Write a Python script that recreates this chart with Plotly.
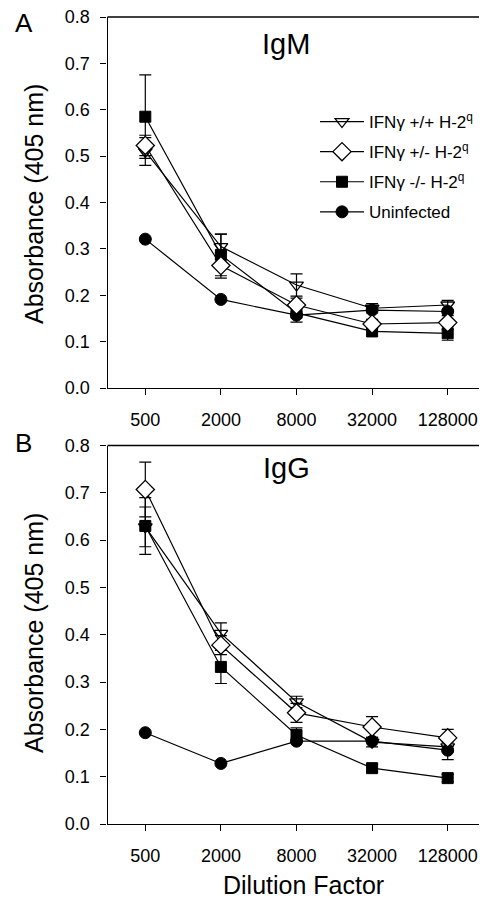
import plotly.graph_objects as go

dilutions = [500, 2000, 8000, 32000, 128000]
tick_labels = ["500", "2000", "8000", "32000", "128000"]
series_names = ["IFNγ +/+ H-2<sup>q</sup>", "IFNγ +/- H-2<sup>q</sup>",
                "IFNγ -/- H-2<sup>q</sup>", "Uninfected"]

# Panel A: IgM
igm_wt = [0.510, 0.305, 0.222, 0.172, 0.179]
igm_wt_err = [0.030, 0.027, 0.024, 0.010, 0.010]
igm_het = [0.523, 0.264, 0.179, 0.138, 0.141]
igm_het_err = [0.022, 0.027, 0.015, 0.010, 0.015]
igm_ko = [0.585, 0.287, 0.162, 0.122, 0.118]
igm_ko_err = [0.090, 0.045, 0.020, 0.010, 0.015]
igm_uninf = [0.321, 0.191, 0.157, 0.168, 0.165]
igm_uninf_err = [0.0, 0.0, 0.0, 0.0, 0.0]

# Panel B: IgG
igg_wt = [0.628, 0.403, 0.258, 0.173, 0.163]
igg_wt_err = [0.042, 0.022, 0.012, 0.010, 0.010]
igg_het = [0.707, 0.378, 0.235, 0.205, 0.182]
igg_het_err = [0.058, 0.020, 0.020, 0.022, 0.018]
igg_ko = [0.630, 0.332, 0.188, 0.118, 0.097]
igg_ko_err = [0.060, 0.035, 0.015, 0.008, 0.008]
igg_uninf = [0.193, 0.128, 0.175, 0.175, 0.156]
igg_uninf_err = [0.0, 0.0, 0.0, 0.0, 0.020]

FONT = "Liberation Sans, Arial, sans-serif"

markers = [
    dict(symbol="triangle-down-open", size=12, color="black", line=dict(width=1.3, color="black")),
    dict(symbol="diamond", size=14, color="white", line=dict(width=1.3, color="black")),
    dict(symbol="square", size=11, color="black", line=dict(width=1, color="black")),
    dict(symbol="circle", size=12, color="black", line=dict(width=1, color="black")),
]

fig = go.Figure()

panelA = [(igm_wt, igm_wt_err), (igm_het, igm_het_err), (igm_ko, igm_ko_err), (igm_uninf, igm_uninf_err)]
panelB = [(igg_wt, igg_wt_err), (igg_het, igg_het_err), (igg_ko, igg_ko_err), (igg_uninf, igg_uninf_err)]

order = [3, 2, 0, 1]  # drawing order (open markers on top)
for i in order:
    vals, errs = panelA[i]
    fig.add_trace(go.Scatter(
        x=dilutions, y=vals, mode="lines+markers", name=series_names[i],
        legendgroup="g%d" % i, legendrank=i + 1,
        line=dict(color="black", width=1.2), marker=markers[i],
        error_y=dict(type="data", array=errs, color="black", thickness=1.2, width=6),
        xaxis="x", yaxis="y", cliponaxis=False))
for i in order:
    vals, errs = panelB[i]
    fig.add_trace(go.Scatter(
        x=dilutions, y=vals, mode="lines+markers", name=series_names[i],
        showlegend=False,
        line=dict(color="black", width=1.2), marker=markers[i],
        error_y=dict(type="data", array=errs, color="black", thickness=1.2, width=6),
        xaxis="x2", yaxis="y2", cliponaxis=False))

# The page places the figure 8px in from the top-left corner of the window.
OFF = 8
W, H = 487 - OFF, 899 - OFF


def px(x):
    return (x - OFF) / W


def py(y):
    return 1 - (y - OFF) / H


LEFT, RIGHT = 107.5, 485.5
A_TOP, A_BOT = 17, 388
B_TOP, B_BOT = 445.5, 824

xdom = [px(LEFT), px(RIGHT)]
yA = [py(A_BOT), py(A_TOP)]
yB = [py(B_BOT), py(B_TOP)]

tickfont = dict(family=FONT, size=18, color="black")
xcommon = dict(type="log", range=[2.39794, 5.40824], tickvals=dilutions, ticktext=tick_labels,
               showline=True, linecolor="black", linewidth=1.2, ticks="outside", ticklen=6,
               tickcolor="black", tickwidth=1.2, showgrid=False, zeroline=False,
               tickfont=tickfont, domain=xdom, ticklabelstandoff=9, ticklabeloverflow="allow")
ycommon = dict(range=[0, 0.8], dtick=0.1, tickformat=".1f", showline=True, linecolor="black",
               linewidth=1.2, ticks="outside", ticklen=6, tickcolor="black", tickwidth=1.2,
               showgrid=False, zeroline=False, tickfont=tickfont, ticklabelstandoff=7,
               ticklabeloverflow="allow")


def label(text, x, y, size, angle=0):
    return dict(text=text, xref="paper", yref="paper", x=px(x), y=py(y),
                xanchor="center", yanchor="middle", showarrow=False, textangle=angle,
                font=dict(size=size, family=FONT, color="black"))


def border(x0, y0, x1, y1):
    return dict(type="line", xref="paper", yref="paper", x0=px(x0), y0=py(y0), x1=px(x1), y1=py(y1),
                line=dict(color="black", width=1.3), layer="above")


fig.update_layout(
    width=W, height=H, margin=dict(l=0, r=0, t=0, b=0, autoexpand=False),
    paper_bgcolor="white", plot_bgcolor="white",
    font=dict(family=FONT, color="black"),
    xaxis=dict(xcommon, anchor="y"),
    yaxis=dict(ycommon, domain=yA, anchor="x"),
    xaxis2=dict(xcommon, anchor="y2"),
    yaxis2=dict(ycommon, domain=yB, anchor="x2"),
    showlegend=True,
    legend=dict(x=px(315), y=py(104), xanchor="left", yanchor="top",
                traceorder="grouped", tracegroupgap=5, bgcolor="rgba(0,0,0,0)",
                font=dict(family=FONT, size=17, color="black"),
                itemwidth=44),
    shapes=[
        border(LEFT, A_TOP, RIGHT, A_TOP), border(RIGHT, A_TOP, RIGHT, A_BOT),
        border(LEFT, B_TOP, RIGHT, B_TOP), border(RIGHT, B_TOP, RIGHT, B_BOT),
    ],
    annotations=[
        label("IgM", 286, 44, 29),
        label("IgG", 286, 468, 29),
        label("A", 24, 23, 26),
        label("B", 24, 443, 26),
        label("Absorbance (405 nm)", 34, 204, 25, -90),
        label("Absorbance (405 nm)", 34, 633, 25, -90),
        label("Dilution Factor", 303, 885, 25),
    ],
)

fig.write_html("out.html")
